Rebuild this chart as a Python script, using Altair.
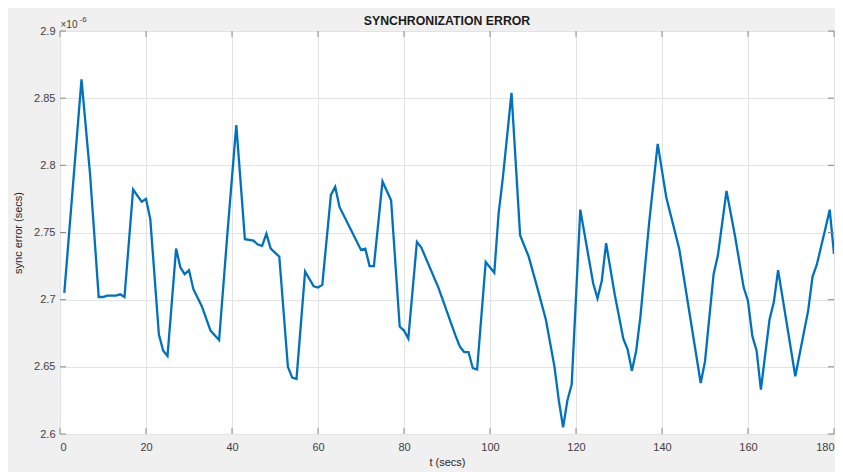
import altair as alt
import pandas as pd

# time stamps (s) of the line vertices
t_secs = [1, 5, 7, 9, 10, 11, 13, 14, 15, 17, 19, 20, 21, 23, 24, 25, 27, 28, 29, 30,
          31, 33, 35, 37, 39, 41, 43, 45, 46, 47, 48, 49, 51, 53, 54, 55, 57, 59, 60, 61,
          63, 64, 65, 70, 71, 72, 73, 75, 77, 79, 80, 81, 83, 84, 88, 91, 92, 93, 94, 95,
          96, 97, 99, 101, 102, 103, 105, 107, 109, 111, 113, 115, 116, 117, 118, 119, 121,
          124, 125, 126, 127, 129, 131, 132, 133, 134, 135, 137, 139, 141, 144, 149, 150,
          152, 153, 155, 157, 159, 160, 161, 162, 163, 165, 166, 167, 171, 174, 175, 176,
          178, 179, 180]

# sync error in units of 1e-6 s
sync_err_e6 = [2.705, 2.864, 2.793, 2.702, 2.702, 2.703, 2.703, 2.704, 2.702, 2.782,
               2.773, 2.775, 2.760, 2.674, 2.662, 2.658, 2.738, 2.724, 2.719, 2.722,
               2.708, 2.695, 2.677, 2.670, 2.752, 2.830, 2.745, 2.744, 2.741, 2.740,
               2.749, 2.738, 2.732, 2.650, 2.642, 2.641, 2.721, 2.710, 2.709, 2.711,
               2.778, 2.784, 2.769, 2.737, 2.738, 2.725, 2.725, 2.788, 2.774, 2.680,
               2.677, 2.671, 2.743, 2.739, 2.709, 2.682, 2.673, 2.665, 2.661, 2.661,
               2.649, 2.648, 2.728, 2.720, 2.764, 2.791, 2.854, 2.748, 2.732, 2.709,
               2.685, 2.650, 2.625, 2.605, 2.625, 2.637, 2.767, 2.712, 2.701, 2.714,
               2.742, 2.704, 2.671, 2.663, 2.647, 2.662, 2.688, 2.757, 2.816, 2.776,
               2.738, 2.638, 2.654, 2.719, 2.733, 2.781, 2.747, 2.709, 2.699, 2.673,
               2.662, 2.633, 2.685, 2.698, 2.722, 2.643, 2.692, 2.717, 2.726, 2.753,
               2.767, 2.734]

x_ticks = [0, 20, 40, 60, 80, 100, 120, 140, 160, 180]
y_ticks = [2.6, 2.65, 2.7, 2.75, 2.8, 2.85, 2.9]

W, H = 774, 403
FONT = "Liberation Sans"
FRAME = "#8a8a8a"
TICKLEN = 6

df = pd.DataFrame({"t": t_secs, "err": sync_err_e6})
xt = pd.DataFrame({"t": x_ticks})
yt = pd.DataFrame({"err": y_ticks})

xscale = alt.Scale(domain=[0, 180], nice=False, zero=False)
yscale = alt.Scale(domain=[2.6, 2.9], nice=False, zero=False)

x_axis = alt.Axis(values=x_ticks, title="t (secs)", format="d",
                  grid=True, gridColor="#e3e3e3", gridWidth=1,
                  domain=False, tickSize=0, labelPadding=7,
                  labelFont=FONT, labelFontSize=11, labelColor="#404040",
                  titleFont=FONT, titleFontSize=11, titleFontWeight="normal",
                  titleColor="#262626", titlePadding=4)
y_axis = alt.Axis(values=y_ticks, title="sync error (secs)", format=".3~f",
                  grid=True, gridColor="#e3e3e3", gridWidth=1,
                  domain=False, tickSize=0, labelPadding=5,
                  labelFont=FONT, labelFontSize=11, labelColor="#404040",
                  titleFont=FONT, titleFontSize=11, titleFontWeight="normal",
                  titleColor="#262626", titlePadding=10)

X = alt.X("t:Q", scale=xscale, axis=x_axis)
Y = alt.Y("err:Q", scale=yscale, axis=y_axis)

line = alt.Chart(df).mark_line(color="#0072BD", strokeWidth=2.3, clip=True).encode(x=X, y=Y)

xtick_bottom = alt.Chart(xt).mark_rule(color=FRAME, strokeWidth=1).encode(
    x=X, y=alt.value(H), y2=alt.value(H - TICKLEN))
xtick_top = alt.Chart(xt).mark_rule(color=FRAME, strokeWidth=1).encode(
    x=X, y=alt.value(0), y2=alt.value(TICKLEN))
ytick_left = alt.Chart(yt).mark_rule(color=FRAME, strokeWidth=1).encode(
    y=Y, x=alt.value(0), x2=alt.value(TICKLEN))
ytick_right = alt.Chart(yt).mark_rule(color=FRAME, strokeWidth=1).encode(
    y=Y, x=alt.value(W), x2=alt.value(W - TICKLEN))

one = alt.Data(values=[{"a": 1}])
title_txt = alt.Chart(one).mark_text(text="SYNCHRONIZATION ERROR", align="center",
                                     baseline="middle", font=FONT, fontSize=12.3,
                                     fontWeight="bold", color="#1a1a1a").encode(
    x=alt.value(W / 2), y=alt.value(-10.5))
exp_base = alt.Chart(one).mark_text(text="\u00d710", align="left", baseline="middle",
                                    font=FONT, fontSize=10, color="#404040").encode(
    x=alt.value(0.5), y=alt.value(-6.5))
exp_pow = alt.Chart(one).mark_text(text="-6", align="left", baseline="middle",
                                   font=FONT, fontSize=8, color="#404040").encode(
    x=alt.value(19.5), y=alt.value(-11))

chart = alt.layer(line, xtick_bottom, xtick_top, ytick_left, ytick_right,
                  title_txt, exp_base, exp_pow).properties(
    width=W, height=H,
    autosize=alt.AutoSizeParams(type="none"),
    padding={"left": 52, "top": 23, "right": 1, "bottom": 41},
).configure(background="#f0f0f0").configure_view(
    fill="white", stroke=FRAME, strokeWidth=1)

chart.save("out.html", embed_options={"renderer": "svg", "actions": False})
